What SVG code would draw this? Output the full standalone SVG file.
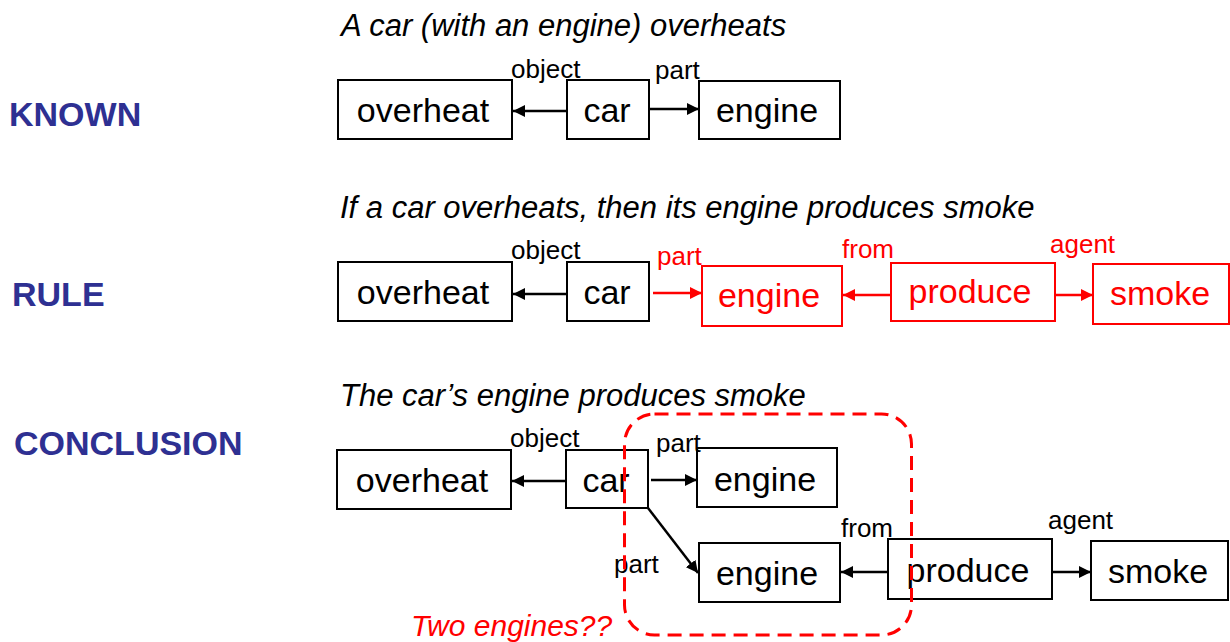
<svg xmlns="http://www.w3.org/2000/svg" width="1230" height="642" viewBox="0 0 1230 642">
  <style>
    .box { fill: #ffffff; stroke: #000000; stroke-width: 2; }
    .box.red { stroke: #ff0000; }
    .word { font-family: "Liberation Sans", Arial, sans-serif; font-size: 34px; fill: #000000; text-anchor: middle; }
    .word.red { fill: #ff0000; }
    .lab { font-family: "Liberation Sans", Arial, sans-serif; font-size: 26px; fill: #000000; }
    .lab.red { fill: #ff0000; }
    .title { font-family: "Liberation Sans", Arial, sans-serif; font-size: 31px; font-style: italic; fill: #000000; }
    .head { font-family: "Liberation Sans", Arial, sans-serif; font-size: 34px; font-weight: bold; fill: #2e3092; }
    .edge { stroke: #000000; stroke-width: 2.5; fill: none; marker-end: url(#ah); }
    .edge.red { stroke: #ff0000; marker-end: url(#ahr); }
    .note { font-family: "Liberation Sans", Arial, sans-serif; font-size: 30px; font-style: italic; fill: #ff0000; }
  </style>
  <defs>
    <marker id="ah" viewBox="0 0 10 10" refX="10" refY="5" markerWidth="12" markerHeight="12" markerUnits="userSpaceOnUse" orient="auto">
      <path d="M0,0 L10,5 L0,10 z" fill="#000000"/>
    </marker>
    <marker id="ahr" viewBox="0 0 10 10" refX="10" refY="5" markerWidth="12" markerHeight="12" markerUnits="userSpaceOnUse" orient="auto">
      <path d="M0,0 L10,5 L0,10 z" fill="#ff0000"/>
    </marker>
  </defs>

  <rect width="1230" height="642" fill="#ffffff"/>

  <!-- section headings -->
  <text class="head" x="9" y="126">KNOWN</text>
  <text class="head" x="12" y="306">RULE</text>
  <text class="head" x="14" y="455">CONCLUSION</text>

  <!-- captions -->
  <text class="title" x="341" y="36">A car (with an engine) overheats</text>
  <text class="title" x="340" y="218">If a car overheats, then its engine produces smoke</text>
  <text class="title" x="340" y="406">The car’s engine produces smoke</text>

  <!-- row 1: known -->
  <g id="k-overheat"><rect class="box" x="338" y="80" width="174" height="59"/><text class="word" x="423" y="122">overheat</text></g>
  <g id="k-car"><rect class="box" x="567" y="80" width="82" height="59"/><text class="word" x="607" y="122">car</text></g>
  <g id="k-engine"><rect class="box" x="699" y="81" width="141" height="58"/><text class="word" x="767" y="122">engine</text></g>

  <!-- row 2: rule -->
  <g id="r-overheat"><rect class="box" x="338" y="262" width="174" height="59"/><text class="word" x="423" y="304">overheat</text></g>
  <g id="r-car"><rect class="box" x="567" y="262" width="82" height="59"/><text class="word" x="607" y="304">car</text></g>
  <g id="r-engine"><rect class="box red" x="702" y="266" width="140" height="60"/><text class="word red" x="769" y="307">engine</text></g>
  <g id="r-produce"><rect class="box red" x="891" y="263" width="164" height="58"/><text class="word red" x="970" y="303">produce</text></g>
  <g id="r-smoke"><rect class="box red" x="1093" y="264" width="136" height="60"/><text class="word red" x="1160" y="305">smoke</text></g>

  <!-- row 3: conclusion -->
  <g id="c-overheat"><rect class="box" x="337" y="450" width="174" height="59"/><text class="word" x="422" y="492">overheat</text></g>
  <g id="c-car"><rect class="box" x="566" y="450" width="82" height="58"/><text class="word" x="606" y="492">car</text></g>
  <g id="c-engine1"><rect class="box" x="697" y="448" width="140" height="59"/><text class="word" x="765" y="491">engine</text></g>
  <g id="c-engine2"><rect class="box" x="699" y="543" width="141" height="59"/><text class="word" x="767" y="585">engine</text></g>
  <g id="c-produce"><rect class="box" x="888" y="539" width="164" height="60"/><text class="word" x="968" y="582">produce</text></g>
  <g id="c-smoke"><rect class="box" x="1091" y="541" width="137" height="59"/><text class="word" x="1158" y="583">smoke</text></g>

  <!-- connectors and their labels -->
  <g id="connectors">
    <line class="edge" x1="567" y1="111" x2="513" y2="111"/>
    <line class="edge" x1="650" y1="109" x2="699" y2="109"/>
    <text class="lab" x="511" y="78">object</text>
    <text class="lab" x="655" y="79">part</text>

    <line class="edge" x1="567" y1="294" x2="513" y2="294"/>
    <line class="edge red" x1="653" y1="293" x2="702" y2="293"/>
    <line class="edge red" x1="891" y1="295" x2="843" y2="295"/>
    <line class="edge red" x1="1055" y1="295" x2="1093" y2="295"/>
    <text class="lab" x="511" y="259">object</text>
    <text class="lab red" x="657" y="265">part</text>
    <text class="lab red" x="842" y="258">from</text>
    <text class="lab red" x="1050" y="253">agent</text>

    <line class="edge" x1="566" y1="481" x2="512" y2="481"/>
    <line class="edge" x1="651" y1="480" x2="697" y2="480"/>
    <line class="edge" x1="648" y1="508" x2="698" y2="573"/>
    <line class="edge" x1="888" y1="572" x2="841" y2="572"/>
    <line class="edge" x1="1052" y1="572" x2="1091" y2="572"/>
    <text class="lab" x="510" y="447">object</text>
    <text class="lab" x="656" y="452">part</text>
    <text class="lab" x="614" y="573">part</text>
    <text class="lab" x="841" y="537">from</text>
    <text class="lab" x="1048" y="529">agent</text>
  </g>

  <!-- dashed outline around the duplicated engine -->
  <rect x="624.5" y="414" width="287" height="221" rx="30" ry="30" fill="none" stroke="#ff0000" stroke-width="3" stroke-dasharray="14 8"/>
  <text class="note" x="411" y="636">Two engines??</text>
</svg>
